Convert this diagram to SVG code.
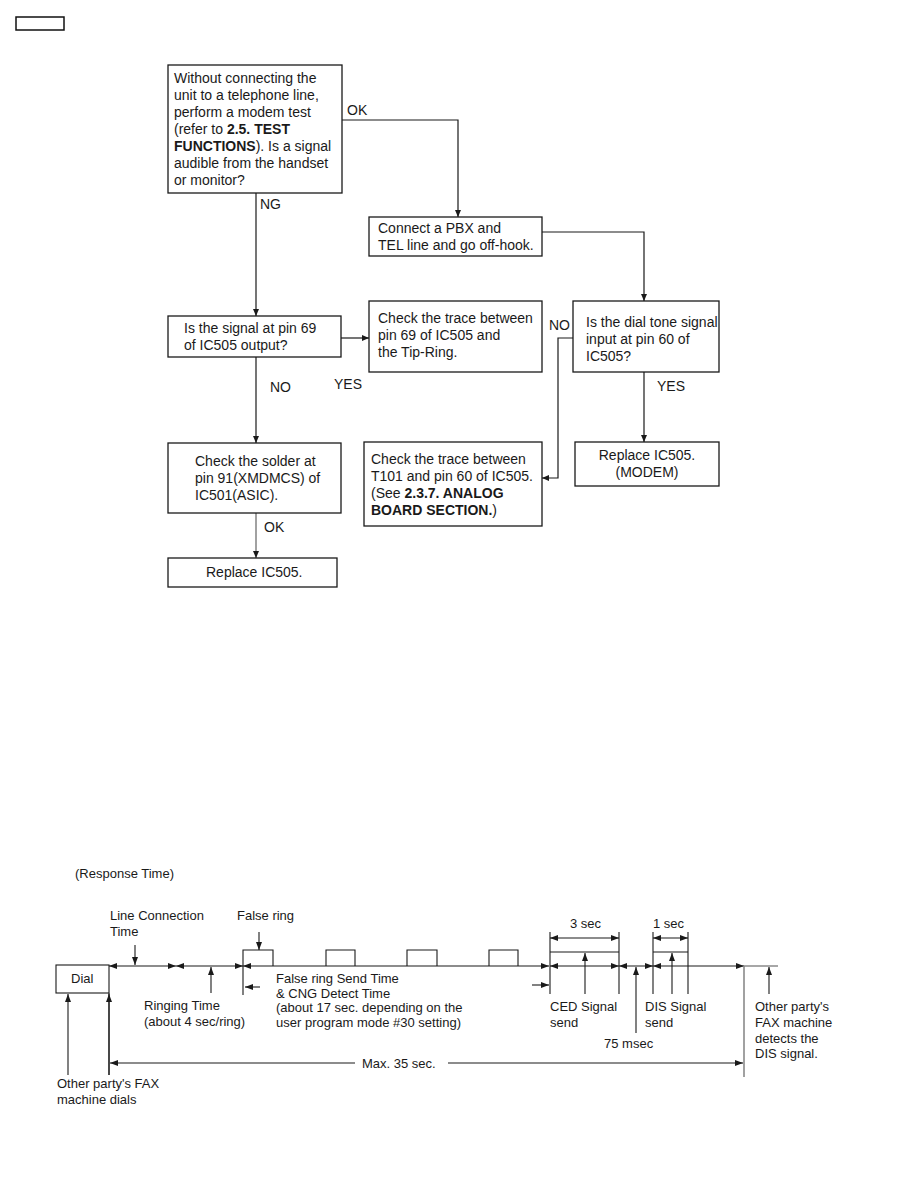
<svg xmlns="http://www.w3.org/2000/svg" width="918" height="1188" viewBox="0 0 918 1188">
<defs>
<style>
.box{fill:#fff;stroke:#1a1a1a;stroke-width:1.3}
.t{font-family:"Liberation Sans",Arial,sans-serif;font-size:14px;fill:#1a1a1a}
.s{font-family:"Liberation Sans",Arial,sans-serif;font-size:13px;fill:#1a1a1a}
.b{font-weight:bold}
.ln{fill:none;stroke:#1a1a1a;stroke-width:1.2}
.gr{fill:none;stroke:#8a8a8a;stroke-width:1.6}
.tl{fill:none;stroke:#1a1a1a;stroke-width:1.1}
.fa{marker-end:url(#fa)}
.da{marker-start:url(#ta);marker-end:url(#ta)}
.ea{marker-end:url(#ta)}
</style>
<marker id="fa" viewBox="0 0 7 6" refX="7" refY="3" markerWidth="7" markerHeight="6" markerUnits="userSpaceOnUse" orient="auto"><path d="M0,0 L7,3 L0,6 z" fill="#1a1a1a"/></marker>
<marker id="ta" viewBox="0 0 8 6" refX="8" refY="3" markerWidth="8" markerHeight="6" markerUnits="userSpaceOnUse" orient="auto-start-reverse"><path d="M0,0 L8,3 L0,6 z" fill="#1a1a1a"/></marker>
</defs>
<rect width="918" height="1188" fill="#fff"/>
<rect x="16" y="17" width="48" height="13" fill="none" stroke="#111" stroke-width="1.5"/>

<g id="connectors">
<polyline class="ln fa" points="342,120 458,120 458,217"/>
<polyline class="ln fa" points="256,193 256,316"/>
<polyline class="ln fa" points="542,232 644,232 644,301"/>
<polyline class="ln fa" points="341,338 369,338"/>
<polyline class="ln fa" points="573,338 558,338 558,478 542,478"/>
<polyline class="ln fa" points="644,372 644,442"/>
<polyline class="ln fa" points="256,357 256,443"/>
<polyline class="gr fa" points="256,513 256,558"/>
</g>

<g id="n1"><rect class="box" x="168" y="65" width="174" height="128"/>
<text class="t" x="174" y="83">Without connecting the</text>
<text class="t" x="174" y="100">unit to a telephone line,</text>
<text class="t" x="174" y="117">perform a modem test</text>
<text class="t" x="174" y="134">(refer to <tspan class="b">2.5. TEST</tspan></text>
<text class="t" x="174" y="151"><tspan class="b">FUNCTIONS</tspan>). Is a signal</text>
<text class="t" x="174" y="168">audible from the handset</text>
<text class="t" x="174" y="185">or monitor?</text></g>
<g id="n2"><rect class="box" x="369" y="217" width="173" height="39"/>
<text class="t" x="378" y="233">Connect a PBX and</text>
<text class="t" x="378" y="250">TEL line and go off-hook.</text></g>
<g id="n3"><rect class="box" x="168" y="316" width="173" height="41"/>
<text class="t" x="184" y="333">Is the signal at pin 69</text>
<text class="t" x="184" y="350">of IC505 output?</text></g>
<g id="n4"><rect class="box" x="369" y="301" width="173" height="71"/>
<text class="t" x="378" y="323">Check the trace between</text>
<text class="t" x="378" y="340">pin 69 of IC505 and</text>
<text class="t" x="378" y="357">the Tip-Ring.</text></g>
<g id="n5"><rect class="box" x="573" y="301" width="146" height="71"/>
<text class="t" x="586" y="327">Is the dial tone signal</text>
<text class="t" x="586" y="344">input at pin 60 of</text>
<text class="t" x="586" y="361">IC505?</text></g>
<g id="n6"><rect class="box" x="364" y="442" width="178" height="84"/>
<text class="t" x="371" y="464">Check the trace between</text>
<text class="t" x="371" y="481">T101 and pin 60 of IC505.</text>
<text class="t" x="371" y="498">(See <tspan class="b">2.3.7. ANALOG</tspan></text>
<text class="t" x="371" y="515"><tspan class="b">BOARD SECTION.</tspan>)</text></g>
<g id="n7"><rect class="box" x="575" y="442" width="144" height="44"/>
<text class="t" x="647" y="460" text-anchor="middle">Replace IC505.</text>
<text class="t" x="647" y="477" text-anchor="middle">(MODEM)</text></g>
<g id="n8"><rect class="box" x="168" y="443" width="173" height="70"/>
<text class="t" x="195" y="466">Check the solder at</text>
<text class="t" x="195" y="483">pin 91(XMDMCS) of</text>
<text class="t" x="195" y="500">IC501(ASIC).</text></g>
<g id="n9"><rect class="box" x="168" y="558" width="169" height="29"/>
<text class="t" x="206" y="577">Replace IC505.</text></g>

<g id="labels">
<text class="t" x="347" y="115">OK</text>
<text class="t" x="260" y="209">NG</text>
<text class="t" x="549" y="330">NO</text>
<text class="t" x="334" y="389">YES</text>
<text class="t" x="270" y="392">NO</text>
<text class="t" x="657" y="391">YES</text>
<text class="t" x="264" y="532">OK</text>
</g>

<g id="timing">
<text class="s" x="75" y="878">(Response Time)</text>
<rect x="56" y="965" width="53" height="28" fill="none" stroke="#1a1a1a" stroke-width="1.1"/>
<text class="s" x="71" y="983">Dial</text>
<line class="tl" x1="109" y1="993" x2="109" y2="1075"/>
<line class="tl ea" x1="109" y1="1075" x2="109" y2="994"/>
<line class="tl ea" x1="68" y1="1075" x2="68" y2="994"/>
<line class="tl da" x1="109" y1="966" x2="176" y2="966"/>
<line class="tl da" x1="176" y1="966" x2="243" y2="966"/>
<line class="tl da" x1="243" y1="966" x2="549" y2="966"/>
<line class="tl da" x1="550" y1="966" x2="619" y2="966"/>
<line class="tl da" x1="619" y1="966" x2="653" y2="966"/>
<line class="tl da" x1="653" y1="966" x2="744" y2="966"/>
<line class="gr" x1="744" y1="966" x2="778" y2="966"/>
<line class="gr" x1="744" y1="966" x2="744" y2="1077"/>
<polyline class="tl" points="243,995 243,950 273,950 273,966"/>
<polyline class="tl" points="326,966 326,950 355,950 355,966"/>
<polyline class="tl" points="407,966 407,950 437,950 437,966"/>
<polyline class="tl" points="489,966 489,950 518,950 518,966"/>
<line class="tl ea" x1="135" y1="945" x2="135" y2="965"/>
<line class="tl ea" x1="259" y1="932" x2="259" y2="950"/>
<line class="tl ea" x1="211" y1="993" x2="211" y2="967"/>
<line class="tl ea" x1="260" y1="987" x2="245" y2="987"/>
<line class="tl ea" x1="532" y1="985" x2="549" y2="985"/>
<line class="tl" x1="550" y1="932" x2="550" y2="994"/>
<line class="tl" x1="619" y1="932" x2="619" y2="994"/>
<line class="tl" x1="653" y1="932" x2="653" y2="994"/>
<line class="tl" x1="688" y1="932" x2="688" y2="994"/>
<line class="tl da" x1="550" y1="938" x2="619" y2="938"/>
<line class="tl da" x1="653" y1="938" x2="688" y2="938"/>
<line class="tl" x1="550" y1="952" x2="619" y2="952"/>
<line class="tl" x1="653" y1="952" x2="688" y2="952"/>
<line class="tl ea" x1="585" y1="994" x2="585" y2="953"/>
<line class="tl ea" x1="672" y1="994" x2="672" y2="953"/>
<line class="tl ea" x1="636" y1="1033" x2="636" y2="967"/>
<line class="tl ea" x1="769" y1="994" x2="769" y2="967"/>
<line class="tl ea" x1="355" y1="1063" x2="110" y2="1063"/>
<line class="tl ea" x1="448" y1="1063" x2="743" y2="1063"/>
<text class="s" x="110" y="920">Line Connection</text>
<text class="s" x="110" y="936">Time</text>
<text class="s" x="237" y="920">False ring</text>
<text class="s" x="144" y="1010">Ringing Time</text>
<text class="s" x="144" y="1026">(about 4 sec/ring)</text>
<text class="s" x="276" y="983">False ring Send Time</text>
<text class="s" x="276" y="998">&amp; CNG Detect Time</text>
<text class="s" x="276" y="1012">(about 17 sec. depending on the</text>
<text class="s" x="276" y="1027">user program mode #30 setting)</text>
<text class="s" x="570" y="928">3 sec</text>
<text class="s" x="653" y="928">1 sec</text>
<text class="s" x="550" y="1011">CED Signal</text>
<text class="s" x="550" y="1027">send</text>
<text class="s" x="645" y="1011">DIS Signal</text>
<text class="s" x="645" y="1027">send</text>
<text class="s" x="604" y="1048">75 msec</text>
<text class="s" x="755" y="1011">Other party's</text>
<text class="s" x="755" y="1027">FAX machine</text>
<text class="s" x="755" y="1043">detects the</text>
<text class="s" x="755" y="1058">DIS signal.</text>
<text class="s" x="362" y="1068">Max. 35 sec.</text>
<text class="s" x="57" y="1088">Other party's FAX</text>
<text class="s" x="57" y="1104">machine dials</text>
</g>
</svg>
